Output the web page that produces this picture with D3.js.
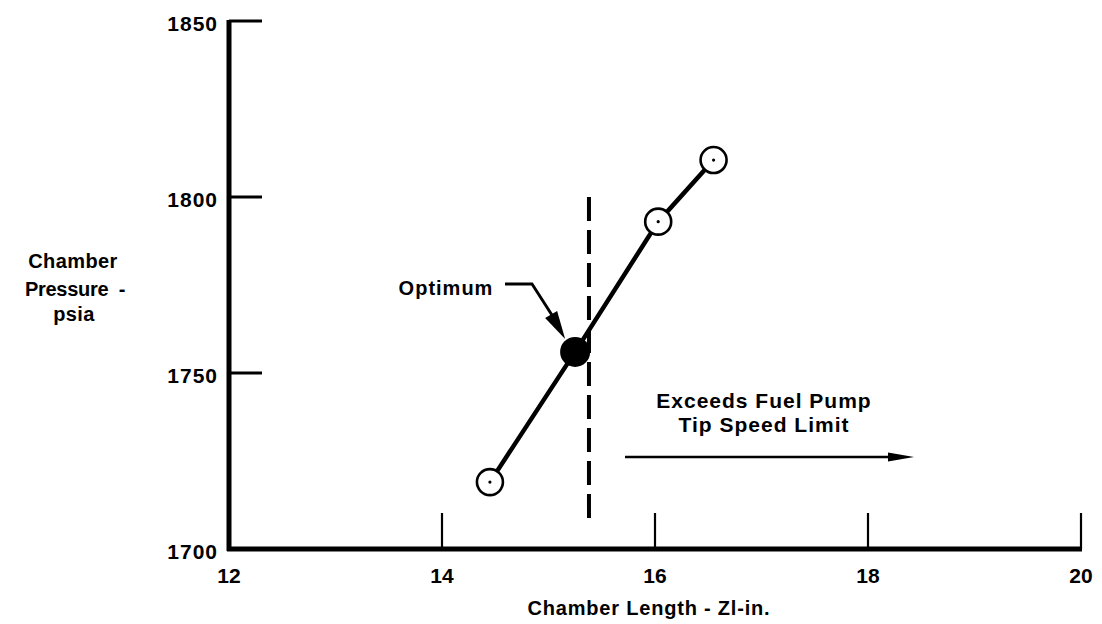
<!DOCTYPE html>
<html>
<head>
<meta charset="utf-8">
<script src="https://cdn.jsdelivr.net/npm/d3@7"></script>
<style>
  html, body { margin: 0; padding: 0; background: #fff; }
  svg text { font-family: "Liberation Sans", Arial, Helvetica, sans-serif; fill: #000; font-weight: bold; }
</style>
</head>
<body>
<svg id="chart" width="1102" height="624"></svg>
<script>
// Chamber length (in.) vs chamber pressure (psia)
const chamberLength = [14.45, 15.25, 16.03, 16.55];
const chamberPressure = [1719, 1756, 1793, 1810.5];
const optimumIndex = 1;

const xTicks = [12, 14, 16, 18, 20];
const yTicks = [1700, 1750, 1800, 1850];

// Fuel pump tip speed limit
const tipSpeedLimit = 15.38;
const limitRange = [1706.5, 1800];

const svg = d3.select("#chart");
const x = d3.scaleLinear().domain([12, 20]).range([229, 1081]);
const y = d3.scaleLinear().domain([1700, 1850]).range([549, 21]);

// Axis frame
svg.append("line")
  .attr("x1", x(12)).attr("x2", x(12))
  .attr("y1", y(1850) - 1).attr("y2", y(1700) + 2)
  .attr("stroke", "#000").attr("stroke-width", 5);
svg.append("line")
  .attr("x1", x(12) - 2).attr("x2", x(20) + 1)
  .attr("y1", y(1700)).attr("y2", y(1700))
  .attr("stroke", "#000").attr("stroke-width", 5);

// Y ticks pointing inward
svg.selectAll(".ytick").data(yTicks.slice(1)).enter().append("line")
  .attr("x1", x(12)).attr("x2", x(12) + 33)
  .attr("y1", d => y(d)).attr("y2", d => y(d))
  .attr("stroke", "#000").attr("stroke-width", 3);
svg.selectAll(".ylab").data(yTicks).enter().append("text")
  .attr("x", 218).attr("y", d => y(d) + 10)
  .attr("text-anchor", "end")
  .attr("font-size", 21).attr("letter-spacing", 1)
  .text(d => d);

// X ticks pointing inward
svg.selectAll(".xtick").data(xTicks.slice(1)).enter().append("line")
  .attr("x1", d => x(d)).attr("x2", d => x(d))
  .attr("y1", y(1700)).attr("y2", y(1700) - 36)
  .attr("stroke", "#000").attr("stroke-width", 2.2);
svg.selectAll(".xlab").data(xTicks).enter().append("text")
  .attr("x", d => x(d)).attr("y", 583)
  .attr("text-anchor", "middle")
  .attr("font-size", 21)
  .text(d => d);

// Axis titles
svg.append("text")
  .attr("x", 649).attr("y", 615)
  .attr("text-anchor", "middle")
  .attr("font-size", 20).attr("letter-spacing", 0.8)
  .text("Chamber Length - Zl-in.");
svg.append("text")
  .attr("x", 73).attr("y", 268)
  .attr("text-anchor", "middle").attr("font-size", 20).attr("letter-spacing", 0.4)
  .text("Chamber");
svg.append("text")
  .attr("x", 25).attr("y", 296)
  .attr("text-anchor", "start").attr("font-size", 20).attr("letter-spacing", -0.3)
  .text("Pressure");
svg.append("text")
  .attr("x", 122).attr("y", 296)
  .attr("text-anchor", "middle").attr("font-size", 20)
  .text("-");
svg.append("text")
  .attr("x", 74).attr("y", 321)
  .attr("text-anchor", "middle").attr("font-size", 20).attr("letter-spacing", 0.4)
  .text("psia");

// Tip speed limit (dashed)
svg.append("line")
  .attr("x1", x(tipSpeedLimit)).attr("x2", x(tipSpeedLimit))
  .attr("y1", y(limitRange[1])).attr("y2", y(limitRange[0]))
  .attr("stroke", "#000").attr("stroke-width", 4)
  .attr("stroke-dasharray", "24,9");

// Data line
const pts = chamberLength.map((v, i) => [v, chamberPressure[i]]);
svg.append("path")
  .attr("d", d3.line().x(d => x(d[0])).y(d => y(d[1]))(pts))
  .attr("fill", "none").attr("stroke", "#000").attr("stroke-width", 4.5);

// Points
pts.forEach((d, i) => {
  if (i === optimumIndex) {
    svg.append("circle").attr("cx", x(d[0])).attr("cy", y(d[1])).attr("r", 15)
      .attr("fill", "#000");
  } else {
    svg.append("circle").attr("cx", x(d[0])).attr("cy", y(d[1])).attr("r", 13)
      .attr("fill", "#fff").attr("stroke", "#000").attr("stroke-width", 2.6);
    svg.append("circle").attr("cx", x(d[0])).attr("cy", y(d[1])).attr("r", 1.6)
      .attr("fill", "#000");
  }
});

// Optimum callout
svg.append("text")
  .attr("x", 446).attr("y", 295)
  .attr("text-anchor", "middle").attr("font-size", 20).attr("letter-spacing", 1)
  .text("Optimum");
const opt = pts[optimumIndex];
const tip = [x(opt[0]) - 10, y(opt[1]) - 13];
svg.append("path")
  .attr("d", `M505,284 L532,284 L${tip[0] - 12},${tip[1] - 22}`)
  .attr("fill", "none").attr("stroke", "#000").attr("stroke-width", 2.8);
svg.append("path")
  .attr("d", `M${tip[0]},${tip[1]} L${tip[0] - 20},${tip[1] - 21} L${tip[0] - 8},${tip[1] - 28} Z`)
  .attr("fill", "#000");

// Region note
svg.append("text")
  .attr("x", 764).attr("y", 408)
  .attr("text-anchor", "middle").attr("font-size", 21).attr("letter-spacing", 1)
  .text("Exceeds Fuel Pump");
svg.append("text")
  .attr("x", 764).attr("y", 432)
  .attr("text-anchor", "middle").attr("font-size", 21).attr("letter-spacing", 1)
  .text("Tip Speed Limit");
svg.append("line")
  .attr("x1", 625).attr("x2", 895).attr("y1", 457).attr("y2", 457)
  .attr("stroke", "#000").attr("stroke-width", 2.5);
svg.append("path")
  .attr("d", "M914,457 L888,452.5 L888,461.5 Z").attr("fill", "#000");
</script>
</body>
</html>
